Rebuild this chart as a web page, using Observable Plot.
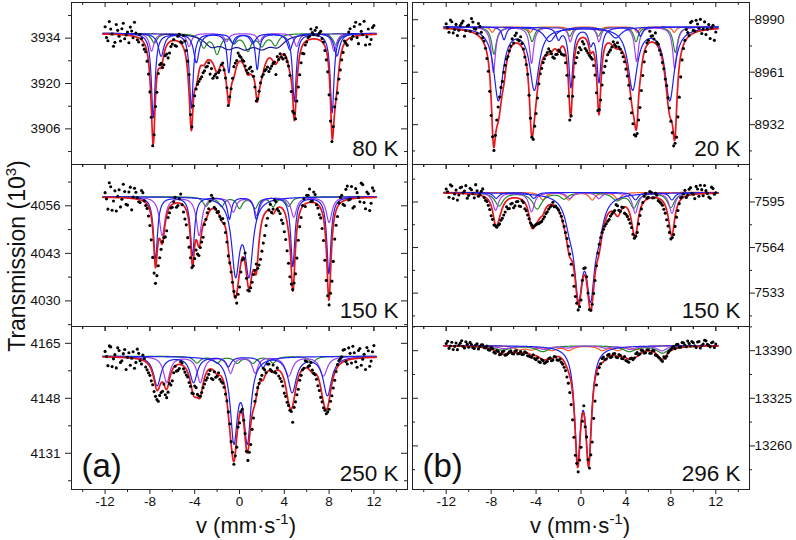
<!DOCTYPE html>
<html><head><meta charset="utf-8">
<script src="https://cdn.jsdelivr.net/npm/d3@7"></script>
<script src="https://cdn.jsdelivr.net/npm/@observablehq/plot@0.6"></script>
<style>
html,body{margin:0;padding:0;background:#fff;}
#fig{position:relative;width:796px;height:540px;overflow:hidden;background:#fff;font-family:"Liberation Sans",Arial,sans-serif;color:#111;}
#fig svg.plot{position:absolute;}
</style></head>
<body><div id="fig">
<svg width="796" height="540" style="position:absolute;left:0;top:0" font-family="Liberation Sans, Arial, sans-serif" fill="#111">
  <text transform="translate(25,256) rotate(-90)" text-anchor="middle" font-size="23">Transmission (10<tspan font-size="15" dy="-9">3</tspan><tspan dy="9">)</tspan></text>
  <text x="246" y="533" text-anchor="middle" font-size="22">v (mm·s<tspan font-size="15" dy="-9">-1</tspan><tspan dy="9">)</tspan></text>
  <text x="580" y="533" text-anchor="middle" font-size="22">v (mm·s<tspan font-size="15" dy="-9">-1</tspan><tspan dy="9">)</tspan></text>
</svg>
</div>
<script>
// ---------- axis ticks ----------
const xMajor = [-12, -8, -4, 0, 4, 8, 12];
const xMinor = [-14, -10, -6, -2, 2, 6, 10, 14];
const temps = ["80 K", "150 K", "250 K", "20 K", "150 K", "296 K"];
const tags = ["(a)", "(b)"];

const ticks80K = [3906, 3920, 3934],   minor80K = [3899, 3913, 3927, 3941];
const ticks150Ka = [4030, 4043, 4056], minor150Ka = [4023.5, 4036.5, 4049.5, 4062.5];
const ticks250K = [4131, 4148, 4165],  minor250K = [4122.5, 4139.5, 4156.5];
const ticks20K = [8932, 8961, 8990],   minor20K = [8917.5, 8946.5, 8975.5];
const ticks150Kb = [7533, 7564, 7595], minor150Kb = [7517.5, 7548.5, 7579.5, 7610.5];
const ticks296K = [13260, 13325, 13390], minor296K = [13227.5, 13292.5, 13357.5, 13422.5];

const baselines = [3935.5, 4058.5, 4161, 8986, 7601.5, 13397];
const dom80K = [3895, 3945], dom150Ka = [4023, 4067.3], dom250K = [4119.8, 4170.2];
const dom20K = [8910, 8999.5], dom150Kb = [7510.3, 7620.5], dom296K = [13200.5, 13423];

// ---------- measured spectra ----------
// channels at -12 ... 12 mm/s (step 0.25) and the interleaved channels -11.875 ... 11.875
const velocity = d3.range(-12, 12.001, 0.25);
const velocityMid = d3.range(-11.875, 11.9, 0.25);
const dots80K = [
3937.5,3933.2,3936.8,3931.5, 3938.2,3934.6,3936.9,3933.8, 3935.9,3937.4,3934.1,3935.6,
3932.8,3933.9,3930.6,3926.9, 3917.4,3900.8,3912.9,3923.1, 3926.2,3925.8,3929.1,3929.4,
3932.2,3931.7,3934.6,3932.9, 3934.8,3930.2,3922.8,3906.6, 3916.2,3919.8,3921.4,3923.3,
3925.1,3926.4,3924.6,3922.3, 3921.8,3924.1,3926.3,3921.7, 3913.2,3918.4,3925.2,3927.1,
3928.6,3927.3,3925.4,3923.2, 3925.1,3922.2,3914.6,3917.6, 3922.1,3923.9,3925.1,3924.6,
3926.2,3922.8,3927.4,3928.1, 3928.9,3926.8,3922.5,3911.4, 3909.1,3918.9,3926.4,3929.2,
3932.8,3934.6,3935.7,3936.4, 3934.9,3936.1,3932.8,3927.3, 3916.5,3902.1,3912.8,3917.1,
3924.2,3929.6,3932.4,3935.9, 3933.7,3937.6,3934.2,3938.3, 3935.1,3931.9,3936.8,3933.6, 3937.9];
const dots80K_mid = [
3934.2,3939.1,3935.3,3932.7, 3936.4,3933.1,3938.6,3935.0, 3932.6,3936.2,3938.9,3933.5,
3935.2,3931.9,3929.8,3922.9, 3909.6,3904.2,3917.3,3925.8, 3924.9,3928.6,3927.9,3931.4,
3933.6,3931.5,3935.2,3932.6, 3933.1,3926.9,3910.4,3913.1, 3918.3,3920.6,3922.1,3923.9,
3925.3,3922.9,3921.6,3922.9, 3923.4,3925.8,3924.2,3918.7, 3915.9,3921.6,3926.3,3929.4,
3928.1,3926.9,3924.1,3924.6, 3923.8,3918.9,3915.3,3920.2, 3922.8,3924.3,3923.7,3925.4,
3926.6,3928.3,3929.2,3927.6, 3927.9,3925.4,3917.5,3910.8, 3914.6,3922.7,3929.3,3931.9,
3934.2,3936.8,3935.1,3937.3, 3935.6,3933.9,3930.2,3923.6, 3908.4,3906.7,3915.2,3921.4,
3927.3,3933.1,3931.8,3936.9, 3934.6,3938.9,3932.3,3936.1, 3939.2,3934.4,3932.1,3937.3];
const dots150Ka = [
4059.6,4055.1,4061.2,4057.3, 4054.6,4060.4,4057.8,4059.9, 4056.2,4061.1,4058.4,4059.7,
4057.1,4060.2,4057.4,4055.3, 4050.6,4041.9,4034.8,4039.6, 4044.1,4047.3,4049.2,4054.1,
4055.6,4058.3,4056.1,4059.2, 4054.3,4050.8,4044.7,4039.1, 4041.6,4042.8,4044.6,4047.4,
4052.3,4055.2,4058.9,4055.6, 4054.2,4053.1,4052.5,4048.7, 4042.3,4037.9,4032.6,4029.4,
4033.8,4041.2,4043.1,4032.9, 4033.6,4037.2,4040.1,4039.8, 4043.6,4047.9,4052.6,4056.4,
4055.1,4057.2,4054.6,4052.1, 4048.9,4043.7,4036.6,4033.1, 4037.4,4046.6,4052.8,4057.9,
4058.9,4060.6,4057.3,4059.1, 4055.4,4052.7,4046.5,4035.6, 4028.9,4035.4,4046.9,4053.1,
4058.3,4056.4,4060.5,4057.6, 4061.3,4055.8,4059.6,4057.1, 4061.8,4055.2,4059.3,4056.7, 4060.1];
const dots150Ka_mid = [
4057.9,4062.3,4054.8,4060.1, 4058.6,4055.7,4061.9,4056.4, 4059.8,4054.9,4060.8,4058.2,
4056.9,4059.6,4056.1,4053.2, 4046.7,4037.6,4036.9,4041.8, 4046.2,4047.5,4052.8,4055.4,
4057.1,4055.6,4057.9,4056.3, 4052.4,4047.3,4041.8,4039.6, 4043.9,4042.4,4046.1,4050.9,
4054.1,4057.3,4058.1,4055.1, 4054.4,4052.3,4051.2,4046.1, 4040.4,4035.1,4031.2,4031.8,
4037.9,4041.6,4036.2,4032.7, 4035.1,4038.4,4038.9,4041.4, 4045.8,4050.6,4054.9,4054.2,
4057.6,4055.1,4053.9,4051.2, 4046.8,4040.3,4034.6,4034.9, 4041.7,4050.3,4056.1,4055.8,
4058.9,4057.2,4059.8,4056.3, 4053.6,4049.8,4041.1,4031.4, 4032.1,4040.8,4050.7,4056.8,
4058.9,4056.1,4061.4,4057.8, 4055.4,4060.7,4058.3,4062.2, 4056.9,4059.8,4054.7,4060.9];
const dots250K = [
4162.5,4158.1,4163.9,4160.2, 4157.4,4162.8,4159.6,4163.1, 4160.7,4158.2,4162.4,4159.1,
4161.9,4158.6,4160.3,4156.8, 4155.1,4152.2,4148.6,4147.1, 4149.8,4152.4,4148.2,4152.6,
4153.4,4157.9,4156.6,4159.3, 4157.1,4155.2,4152.9,4149.6, 4151.8,4149.2,4148.6,4151.3,
4153.6,4155.4,4154.1,4156.2, 4154.8,4153.9,4152.7,4149.3, 4143.8,4134.6,4127.6,4132.9,
4140.4,4144.6,4137.1,4128.8, 4133.7,4141.9,4149.2,4152.6, 4155.1,4156.8,4158.6,4156.9,
4158.3,4155.8,4154.9,4153.2, 4149.6,4146.8,4144.3,4140.6, 4146.9,4150.8,4155.1,4157.3,
4159.4,4158.1,4156.7,4155.3, 4151.9,4148.3,4145.1,4143.2, 4144.6,4148.8,4153.6,4158.4,
4160.2,4162.9,4159.4,4163.6, 4158.9,4162.1,4157.6,4163.4, 4160.1,4156.9,4162.7,4159.5, 4164.3];
const dots250K_mid = [
4160.9,4164.2,4157.8,4161.5, 4163.6,4159.1,4161.8,4156.9, 4162.1,4160.4,4157.3,4163.2,
4159.6,4161.4,4157.7,4155.9, 4153.4,4150.1,4147.6,4148.9, 4150.2,4149.1,4149.9,4152.1,
4155.9,4156.4,4157.2,4158.9, 4156.1,4154.6,4151.7,4149.4, 4151.3,4148.7,4149.8,4152.4,
4154.3,4156.6,4153.8,4154.5, 4155.9,4153.2,4151.4,4147.2, 4140.1,4131.3,4130.2,4139.1,
4143.9,4141.2,4131.6,4131.3, 4138.4,4147.1,4151.3,4153.9, 4157.3,4155.9,4158.6,4156.4,
4156.1,4157.4,4154.1,4151.8, 4148.6,4145.8,4143.9,4145.2, 4149.1,4153.6,4156.8,4159.6,
4157.8,4159.1,4155.7,4153.9, 4150.4,4146.9,4144.3,4143.8, 4147.1,4151.2,4156.3,4159.7,
4160.8,4163.1,4158.6,4161.9, 4164.1,4159.3,4162.8,4158.2, 4161.6,4163.7,4157.9,4162.4];
const dots20K = [
8987.8,8983.1,8988.9,8984.6, 8981.2,8986.7,8989.3,8983.9, 8987.1,8990.6,8985.2,8982.4,
8986.3,8980.1,8974.2,8961.5, 8937.1,8917.8,8934.6,8947.3, 8955.9,8964.8,8969.7,8975.4,
8977.1,8982.6,8978.3,8976.9, 8969.4,8959.8,8935.6,8923.9, 8938.2,8954.6,8963.1,8968.4,
8971.9,8972.6,8969.3,8970.8, 8973.2,8971.1,8970.4,8959.3, 8934.6,8947.7,8966.1,8971.8,
8973.4,8976.6,8972.9,8970.3, 8968.2,8959.4,8939.8,8945.6, 8960.7,8967.3,8972.1,8974.9,
8976.2,8977.3,8973.8,8969.5, 8962.7,8953.8,8938.6,8926.4, 8927.1,8941.5,8959.2,8972.4,
8978.6,8980.9,8979.3,8977.6, 8973.1,8966.3,8957.2,8946.8, 8933.9,8920.3,8925.1,8947.2,
8967.8,8978.6,8982.9,8988.4, 8984.1,8989.7,8985.3,8982.4, 8988.8,8984.7,8979.6,8986.9, 8983.2];
const dots20K_mid = [
8985.6,8989.8,8982.7,8987.4, 8984.2,8988.1,8980.9,8986.5, 8983.6,8988.7,8984.8,8987.9,
8983.1,8978.2,8968.6,8950.4, 8925.3,8926.1,8941.8,8952.6, 8960.9,8968.3,8972.8,8979.4,
8981.3,8978.9,8980.6,8973.8, 8965.2,8948.3,8925.1,8931.2, 8946.7,8960.1,8966.3,8970.4,
8973.9,8971.2,8968.7,8970.9, 8972.4,8970.6,8966.2,8947.8, 8936.9,8958.4,8969.1,8974.6,
8977.9,8974.1,8971.6,8969.2, 8964.7,8949.6,8940.3,8953.9, 8964.2,8970.7,8973.3,8977.8,
8975.2,8974.9,8971.7,8966.8, 8958.9,8946.4,8932.5,8925.8, 8934.6,8950.9,8966.7,8977.3,
8983.6,8981.1,8982.7,8976.5, 8970.8,8962.9,8953.6,8941.2, 8927.6,8921.7,8936.3,8958.4,
8974.1,8984.6,8981.2,8989.1, 8983.7,8987.6,8990.2,8984.9, 8981.8,8987.3,8985.5,8978.6];
const dots150Kb = [
7603.8,7598.2,7605.9,7600.4, 7596.3,7604.7,7601.2,7606.1, 7599.5,7603.3,7597.8,7602.6,
7600.1,7603.9,7596.2,7592.7, 7585.6,7579.3,7577.8,7580.1, 7583.9,7588.2,7590.4,7593.6,
7591.1,7595.2,7592.3,7595.8, 7590.4,7586.1,7580.7,7577.9, 7579.6,7580.3,7581.8,7584.9,
7588.3,7591.6,7594.8,7592.2, 7589.6,7585.3,7578.4,7570.1, 7559.6,7545.2,7530.7,7521.6,
7528.3,7549.8,7544.1,7521.9, 7525.4,7541.6,7560.3,7570.8, 7576.4,7580.2,7583.1,7586.9,
7589.2,7592.4,7588.6,7591.3, 7586.7,7583.2,7577.6,7570.4, 7574.3,7585.8,7594.6,7600.7,
7598.2,7601.6,7597.9,7599.6, 7595.1,7592.8,7587.4,7578.6, 7569.9,7572.8,7584.7,7593.9,
7598.4,7602.9,7599.7,7604.8, 7600.2,7605.6,7598.9,7603.4, 7606.2,7600.8,7597.5,7604.1, 7601.3];
const dots150Kb_mid = [
7601.9,7606.7,7597.4,7603.1, 7599.8,7605.2,7602.4,7597.6, 7604.3,7600.6,7606.8,7598.9,
7602.2,7598.1,7595.3,7589.9, 7583.2,7578.9,7579.2,7582.6, 7586.1,7591.8,7590.6,7594.1,
7592.4,7595.3,7591.9,7594.6, 7589.1,7583.6,7579.4,7578.8, 7580.2,7581.1,7583.4,7587.1,
7590.2,7592.4,7591.8,7590.9, 7587.5,7582.1,7574.2,7564.9, 7552.6,7537.7,7526.2,7523.8,
7541.7,7550.2,7533.1,7521.4, 7532.8,7551.6,7566.3,7574.2, 7578.6,7581.9,7585.4,7588.1,
7593.2,7589.3,7591.6,7587.4, 7585.2,7580.6,7573.1,7571.7, 7580.1,7590.3,7598.9,7597.6,
7602.1,7597.8,7600.9,7595.9, 7594.2,7590.1,7582.9,7574.3, 7570.8,7578.4,7589.2,7597.8,
7600.4,7598.1,7603.7,7600.9, 7597.3,7603.8,7606.4,7599.2, 7602.7,7598.4,7605.1,7600.3];
const dots296K = [
13399.8,13393.2,13401.6,13395.9, 13391.4,13400.3,13396.1,13402.2, 13394.7,13398.5,13392.9,13399.4,
13395.6,13398.1,13393.8,13391.2, 13394.6,13387.9,13390.2,13384.6, 13388.3,13383.9,13386.2,13389.7,
13385.4,13390.1,13386.3,13384.8, 13388.6,13383.1,13381.7,13384.4, 13377.6,13374.9,13377.8,13372.8,
13375.6,13380.4,13377.2,13381.3, 13376.9,13374.2,13367.4,13354.1, 13332.8,13295.6,13247.3,13224.6,
13258.1,13314.9,13272.3,13229.8, 13265.4,13321.2,13358.3,13372.1, 13381.4,13378.6,13384.9,13381.7,
13386.2,13380.4,13383.8,13378.9, 13376.5,13374.2,13379.8,13380.1, 13387.4,13385.6,13390.3,13387.2,
13391.1,13386.4,13389.9,13383.2, 13379.6,13375.4,13379.8,13387.3, 13391.7,13395.9,13398.4,13394.6,
13401.2,13397.8,13403.1,13396.4, 13400.9,13394.2,13402.6,13397.1, 13404.3,13398.7,13395.2,13401.8, 13399.1];
const dots296K_mid = [
13402.8,13396.3,13391.7,13400.5, 13397.4,13403.6,13393.8,13398.9, 13401.3,13394.1,13397.6,13392.4,
13397.9,13394.3,13396.2,13390.7, 13392.6,13386.4,13389.1,13385.3, 13389.6,13384.5,13388.4,13386.2,
13389.4,13385.7,13388.9,13385.2, 13387.1,13382.6,13380.9,13379.2, 13380.1,13373.9,13376.4,13374.1,
13379.2,13376.3,13382.1,13377.4, 13378.3,13371.6,13362.8,13345.7, 13316.4,13271.9,13236.2,13240.7,
13293.6,13286.1,13241.3,13247.8, 13297.6,13343.2,13366.9,13379.3, 13377.8,13383.9,13380.6,13385.7,
13381.2,13384.6,13379.3,13382.1, 13375.6,13379.4,13377.8,13385.9, 13384.3,13390.6,13386.7,13391.2,
13386.5,13390.1,13384.2,13381.4, 13377.2,13381.6,13382.4,13389.9, 13394.1,13392.8,13398.7,13394.9,
13400.6,13395.3,13399.7,13402.4, 13396.8,13401.9,13393.6,13399.2, 13403.4,13397.2,13400.8,13394.5];

// ---------- fitted sub-spectra: [line position mm/s, depth, half width] ----------
const fit80K_blue   = [[-7.7,26,.2],[-4.3,23,.2],[-0.95,12,.2],[1.58,11,.2],[4.9,21,.2],[8.27,24.5,.2]];
const fit80K_blue2  = [[-7.0,7,.3],[-3.85,9,.3],[-0.55,3,.3],[1.2,3,.3],[4.5,5,.3],[8.7,7,.3]];
const fit80K_navy   = [[-2.5,3.3,.8],[-1.0,3.3,.8],[0.5,3.3,.8],[2.0,3.3,.8],[3.4,3.3,.8]];
const fit80K_green  = [[-7.6,3,.3],[-3.2,4,.35],[-2.0,6,.35],[-0.5,2.5,.35],[0.75,5,.35],[2.0,3.5,.35],[3.2,3.5,.35],[8.6,3.5,.3]];
const fit80K_violet = [[-7.85,5.5,.25],[-4.5,4,.25],[-1.15,2.5,.25],[1.8,2.5,.25],[5.1,4,.25],[8.45,5.5,.25]];

const fit150Ka_blue   = [[-7.5,17,.22],[-4.2,16,.22],[-0.9,6,.22],[1.5,6,.22],[4.76,19,.22],[7.98,21,.22]];
const fit150Ka_blue2  = [[-0.35,20,.42],[0.85,20,.42]];
const fit150Ka_violet = [[-6.9,10.5,.3],[-3.6,10.5,.3],[-0.55,4,.3],[1.55,5,.3],[4.85,5.5,.3],[8.0,7,.3]];
const fit150Ka_green  = [[-3.0,2.5,.3],[-1.6,2.5,.3],[0.0,3,.3],[1.4,3,.3],[3.0,2.5,.3],[4.4,2.5,.3]];

const fit250K_blue   = [[-7.35,9,.4],[-4.1,8,.4],[-1.0,3,.3],[2.1,3,.3],[4.7,11,.45],[7.85,12,.45]];
const fit250K_blue2  = [[-0.5,25,.38],[0.7,25,.38]];
const fit250K_violet = [[-6.5,8,.35],[-3.5,8,.35],[-0.8,5,.3],[1.4,5,.3],[4.4,6,.4],[7.5,6,.4]];
const fit250K_green  = [[-3.8,2,.35],[-2.0,2,.35],[-0.2,2,.35],[1.2,2,.35],[3.0,2,.35],[6.5,2,.35]];

const fit20K_blue   = [[-7.35,40,.5],[-4.15,34,.5],[4.6,34,.5],[7.9,40,.5]];
const fit20K_blue2  = [[-2.8,8,.6],[3.1,6,.6]];
const fit20K_blue3  = [[-6.85,7,.22],[-2.0,6,.25],[-0.9,33,.22],[0.85,8,.22],[1.6,30,.22],[5.3,5,.22]];
const fit20K_violet = [[-7.8,25,.22],[-4.4,20,.22],[-0.95,8,.22],[1.6,8,.22],[4.95,19,.22],[8.35,23,.22]];
const fit20K_green  = [[-7.75,15,.25],[-4.35,8,.25],[-1.0,5,.25],[1.55,5,.25],[4.9,8,.25],[8.4,14,.25]];
const fit20K_orange = [[-7.9,3,.2],[-4.5,3,.2],[-1.05,2,.2],[1.65,2,.2],[5.0,3,.2],[8.3,3,.2]];

const fit150Kb_blue   = [[-0.22,60,.45],[0.85,60,.45],[-1.0,14,.5],[1.6,16,.5]];
const fit150Kb_blue2  = [[-7.55,4,.3],[-4.2,4,.3],[4.85,5,.3],[8.1,5,.3]];
const fit150Kb_violet = [[-7.6,12,.3],[-4.4,13,.3],[-1.0,4,.3],[1.6,4,.3],[4.83,14,.3],[8.1,14,.3]];
const fit150Kb_green  = [[-7.3,9,.45],[-3.9,11,.5],[-1.5,4,.4],[3.2,5,.5],[4.7,10,.4],[8.0,10,.4]];
const fit150Kb_orange = [[-3.4,5,.3],[-1.1,5,.3],[1.0,5,.3],[3.3,5,.3]];

const fit296K_blue   = [[-0.3,148,.32],[0.68,148,.32]];
const fit296K_violet = [[-6.8,4,.8],[-3.3,5,.6],[-1.2,3,.5],[2.2,3,.5],[4.4,5,.6],[7.2,7,.5]];
const fit296K_green  = [[-7.0,6,.8],[-3.4,8,.7],[4.3,8,.7],[7.25,10,.6]];
const fit296K_orange = [[-5.5,5,.5],[-4.4,5,.5],[-2.6,6,.5],[-1.1,6,.45],[1.9,6,.45],[3.3,6,.5],[5.0,5,.5]];

// ---------- styles & layout ----------
const colors = {blue:"#2020f2", navy:"#18188e", violet:"#a142f0", green:"#22892a", orange:"#ff5a22", red:"#e6171d"};
const panels = [
  {col:0,row:0,label:temps[0],base:baselines[0],domain:dom80K,ticks:ticks80K,minor:minor80K,dots:dots80K,mid:dots80K_mid,
   comps:[["green",fit80K_green],["violet",fit80K_violet],["navy",fit80K_navy],["blue",fit80K_blue2],["blue",fit80K_blue]]},
  {col:0,row:1,label:temps[1],base:baselines[1],domain:dom150Ka,ticks:ticks150Ka,minor:minor150Ka,dots:dots150Ka,mid:dots150Ka_mid,
   comps:[["green",fit150Ka_green],["violet",fit150Ka_violet],["blue",fit150Ka_blue2],["blue",fit150Ka_blue]]},
  {col:0,row:2,label:temps[2],base:baselines[2],domain:dom250K,ticks:ticks250K,minor:minor250K,dots:dots250K,mid:dots250K_mid,tag:tags[0],
   comps:[["green",fit250K_green],["violet",fit250K_violet],["blue",fit250K_blue2],["blue",fit250K_blue]]},
  {col:1,row:0,label:temps[3],base:baselines[3],domain:dom20K,ticks:ticks20K,minor:minor20K,dots:dots20K,mid:dots20K_mid,
   comps:[["orange",fit20K_orange],["green",fit20K_green],["violet",fit20K_violet],["blue",fit20K_blue2],["blue",fit20K_blue3],["blue",fit20K_blue]]},
  {col:1,row:1,label:temps[4],base:baselines[4],domain:dom150Kb,ticks:ticks150Kb,minor:minor150Kb,dots:dots150Kb,mid:dots150Kb_mid,
   comps:[["orange",fit150Kb_orange],["green",fit150Kb_green],["violet",fit150Kb_violet],["blue",fit150Kb_blue2],["blue",fit150Kb_blue]]},
  {col:1,row:2,label:temps[5],base:baselines[5],domain:dom296K,ticks:ticks296K,minor:minor296K,dots:dots296K,mid:dots296K_mid,tag:tags[1],
   comps:[["orange",fit296K_orange],["green",fit296K_green],["violet",fit296K_violet],["blue",fit296K_blue]]}
];
const colLayout = [{left:0, ml:71, mr:5, width:412}, {left:407, ml:5, mr:47, width:389}];
const rowTop = [2, 164, 326], rowH = [162, 162, 163];
const MT = 6, MB = 34;
const curveV = d3.range(-12.2, 12.2001, 0.02);

function absorption(lines, v) {
  let s = 0;
  for (const [pos, depth, hw] of lines) { const t = (v - pos) / hw; s += depth / (1 + t * t); }
  return s;
}

const fig = document.getElementById("fig");
for (const p of panels) {
  const C = colLayout[p.col];
  const fh = rowH[p.row], fw = C.width - C.ml - C.mr;
  const height = MT + fh + MB;
  const bottomRow = p.row === 2;
  const marks = [];
  for (const [kind, lines] of p.comps) {
    marks.push(Plot.line(curveV.map(v => ({v, T: p.base - absorption(lines, v)})),
      {x: "v", y: "T", stroke: colors[kind], strokeWidth: 1.2}));
  }
  marks.push(Plot.line(curveV.map(v => ({v, T: p.base - d3.sum(p.comps, c => absorption(c[1], v))})),
    {x: "v", y: "T", stroke: colors.red, strokeWidth: 1.7}));
  const pts = velocity.map((v, i) => ({v, T: p.dots[i]})).concat(velocityMid.map((v, i) => ({v, T: p.mid[i]})));
  marks.push(Plot.dot(pts, {x: "v", y: "T", r: 1.55, fill: "#000", stroke: "none"}));
  marks.push(Plot.frame({stroke: "#222", strokeWidth: 1}));
  // horizontal-edge ticks (all pointing down)
  marks.push(Plot.tickX(xMajor, {x: d => d, insetBottom: fh - 5, stroke: "#222"}));
  marks.push(Plot.tickX(xMinor, {x: d => d, insetBottom: fh - 3, stroke: "#222"}));
  marks.push(Plot.tickX(xMajor, {x: d => d, insetTop: fh, insetBottom: -5, stroke: "#222"}));
  marks.push(Plot.tickX(xMinor, {x: d => d, insetTop: fh, insetBottom: -3, stroke: "#222"}));
  // vertical-edge ticks
  if (p.col === 0) {
    marks.push(Plot.tickY(p.ticks, {y: d => d, insetLeft: -6, insetRight: fw, stroke: "#222"}));
    marks.push(Plot.tickY(p.minor, {y: d => d, insetLeft: -3, insetRight: fw, stroke: "#222"}));
    marks.push(Plot.tickY(p.ticks, {y: d => d, insetLeft: fw - 6, stroke: "#222"}));
    marks.push(Plot.tickY(p.minor, {y: d => d, insetLeft: fw - 3, stroke: "#222"}));
  } else {
    marks.push(Plot.tickY(p.ticks, {y: d => d, insetRight: fw - 6, stroke: "#222"}));
    marks.push(Plot.tickY(p.minor, {y: d => d, insetRight: fw - 3, stroke: "#222"}));
    marks.push(Plot.tickY(p.ticks, {y: d => d, insetLeft: fw, insetRight: -6, stroke: "#222"}));
    marks.push(Plot.tickY(p.minor, {y: d => d, insetLeft: fw, insetRight: -3, stroke: "#222"}));
  }
  marks.push(Plot.text([p.label], {frameAnchor: "bottom-right", dx: -9, dy: -9, fontSize: 22.5, textAnchor: "end", lineAnchor: "bottom", fill: "#111"}));
  if (p.tag) marks.push(Plot.text([p.tag], {frameAnchor: "bottom-left", dx: 10, dy: -13, fontSize: 33, textAnchor: "start", lineAnchor: "bottom", fill: "#111"}));

  const svg = Plot.plot({
    width: C.width, height,
    marginLeft: C.ml, marginRight: C.mr, marginTop: MT, marginBottom: MB,
    style: {background: "transparent", overflow: "visible", fontFamily: "Liberation Sans, Arial, sans-serif", fontSize: "13.5px", color: "#111"},
    x: {domain: [-15, 15], axis: bottomRow ? "bottom" : null, ticks: xMajor, tickSize: 0, tickPadding: 7, tickFormat: d => String(d), label: null},
    y: {domain: p.domain, axis: p.col === 0 ? "left" : "right", ticks: p.ticks, tickSize: 0, tickPadding: p.col === 0 ? 11 : 5, tickFormat: d => String(d), label: null},
    marks
  });
  svg.style.position = "absolute";
  svg.style.left = C.left + "px";
  svg.style.top = (rowTop[p.row] - MT) + "px";
  svg.style.maxWidth = "none";
  fig.appendChild(svg);
}
</script>
</body></html>
